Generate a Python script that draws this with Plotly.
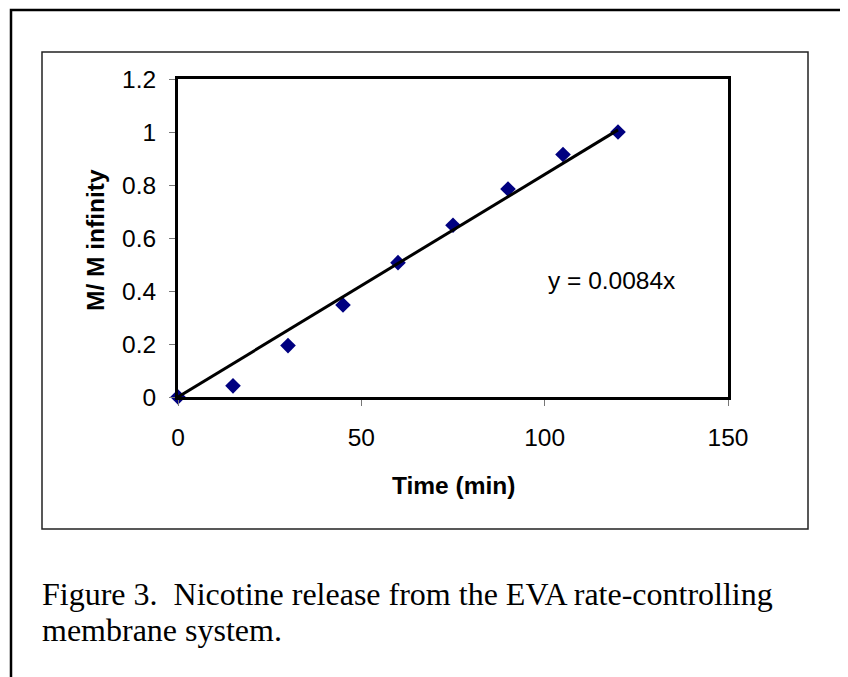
import plotly.graph_objects as go

# ---- data ----
time_min = [0, 15, 30, 45, 60, 75, 90, 105, 120]
m_ratio = [0.0, 0.042, 0.194, 0.347, 0.507, 0.648, 0.785, 0.915, 1.0]
slope = 0.0084
x_ticks = [0, 50, 100, 150]
y_ticks = [0, 0.2, 0.4, 0.6, 0.8, 1.0, 1.2]
y_tick_text = ["0", "0.2", "0.4", "0.6", "0.8", "1", "1.2"]
caption_lines = ["Figure 3.  Nicotine release from the EVA rate-controlling",
                 "membrane system."]

OFF = 8  # default page body margin
W, H = 848 - OFF, 677 - OFF
L, R, T, B = 178 - OFF, 728 - OFF, 79 - OFF, 397 - OFF  # plot area in figure pixels

def px(x):
    return (x - OFF - L) / (R - L)

def py(y):
    return (B - (y - OFF)) / (B - T)

trend_x = [0, max(time_min)]
trend_y = [slope * v for v in trend_x]

fig = go.Figure()
fig.add_trace(go.Scatter(x=time_min, y=m_ratio, mode="markers",
                         marker=dict(symbol="diamond", size=12, color="#000080",
                                     line=dict(width=0)),
                         showlegend=False, cliponaxis=False))
fig.add_trace(go.Scatter(x=trend_x, y=trend_y, mode="lines",
                         line=dict(color="black", width=3),
                         showlegend=False, cliponaxis=False))

sans = "Arial, Liberation Sans, sans-serif"
serif = "Times New Roman, Liberation Serif, serif"
FS = 24.5

fig.update_layout(
    width=W, height=H,
    margin=dict(l=L, r=W - R, t=T, b=H - B, pad=0),
    paper_bgcolor="white", plot_bgcolor="white",
    font=dict(family=sans, size=FS, color="black"),
    xaxis=dict(range=[0, 150], tickvals=x_ticks, showgrid=False, zeroline=False,
               showline=True, linecolor="black", linewidth=3, mirror=True,
               ticks="outside", ticklen=6, tickcolor="#777", tickwidth=1,
               ticklabelstandoff=11, tickfont=dict(size=FS)),
    yaxis=dict(range=[0, 1.2], tickvals=y_ticks, ticktext=y_tick_text,
               showgrid=False, zeroline=False,
               showline=True, linecolor="black", linewidth=3, mirror=True,
               ticks="outside", ticklen=6, tickcolor="#777", tickwidth=1,
               ticklabelstandoff=8, tickfont=dict(size=FS)),
)

shapes = [
    # outer page border
    dict(type="rect", xref="paper", yref="paper",
         x0=px(11), x1=px(843), y0=py(700), y1=py(10),
         line=dict(color="black", width=2.5), layer="below"),
    # chart area border
    dict(type="rect", xref="paper", yref="paper",
         x0=px(42), x1=px(808), y0=py(529), y1=py(52),
         line=dict(color="#222", width=1.5), layer="below"),
]
fig.update_layout(shapes=shapes)

annotations = [
    dict(text="<b>Time (min)</b>", xref="paper", yref="paper",
         x=px(453), y=py(485), showarrow=False, xanchor="center", yanchor="middle",
         font=dict(family=sans, size=FS)),
    dict(text="<b>M/ M infinity</b>", xref="paper", yref="paper",
         x=px(95), y=py(240), showarrow=False, textangle=-90,
         xanchor="center", yanchor="middle", font=dict(family=sans, size=FS)),
    dict(text="y = 0.0084x", xref="paper", yref="paper",
         x=px(611), y=py(280), showarrow=False, xanchor="center", yanchor="middle",
         font=dict(family=sans, size=FS)),
    dict(text=caption_lines[0], xref="paper", yref="paper",
         x=px(40), y=py(594), showarrow=False, xanchor="left", yanchor="middle",
         font=dict(family=serif, size=32)),
    dict(text=caption_lines[1], xref="paper", yref="paper",
         x=px(40), y=py(630), showarrow=False, xanchor="left", yanchor="middle",
         font=dict(family=serif, size=32)),
]
fig.update_layout(annotations=annotations)

fig.write_html("out.html")
